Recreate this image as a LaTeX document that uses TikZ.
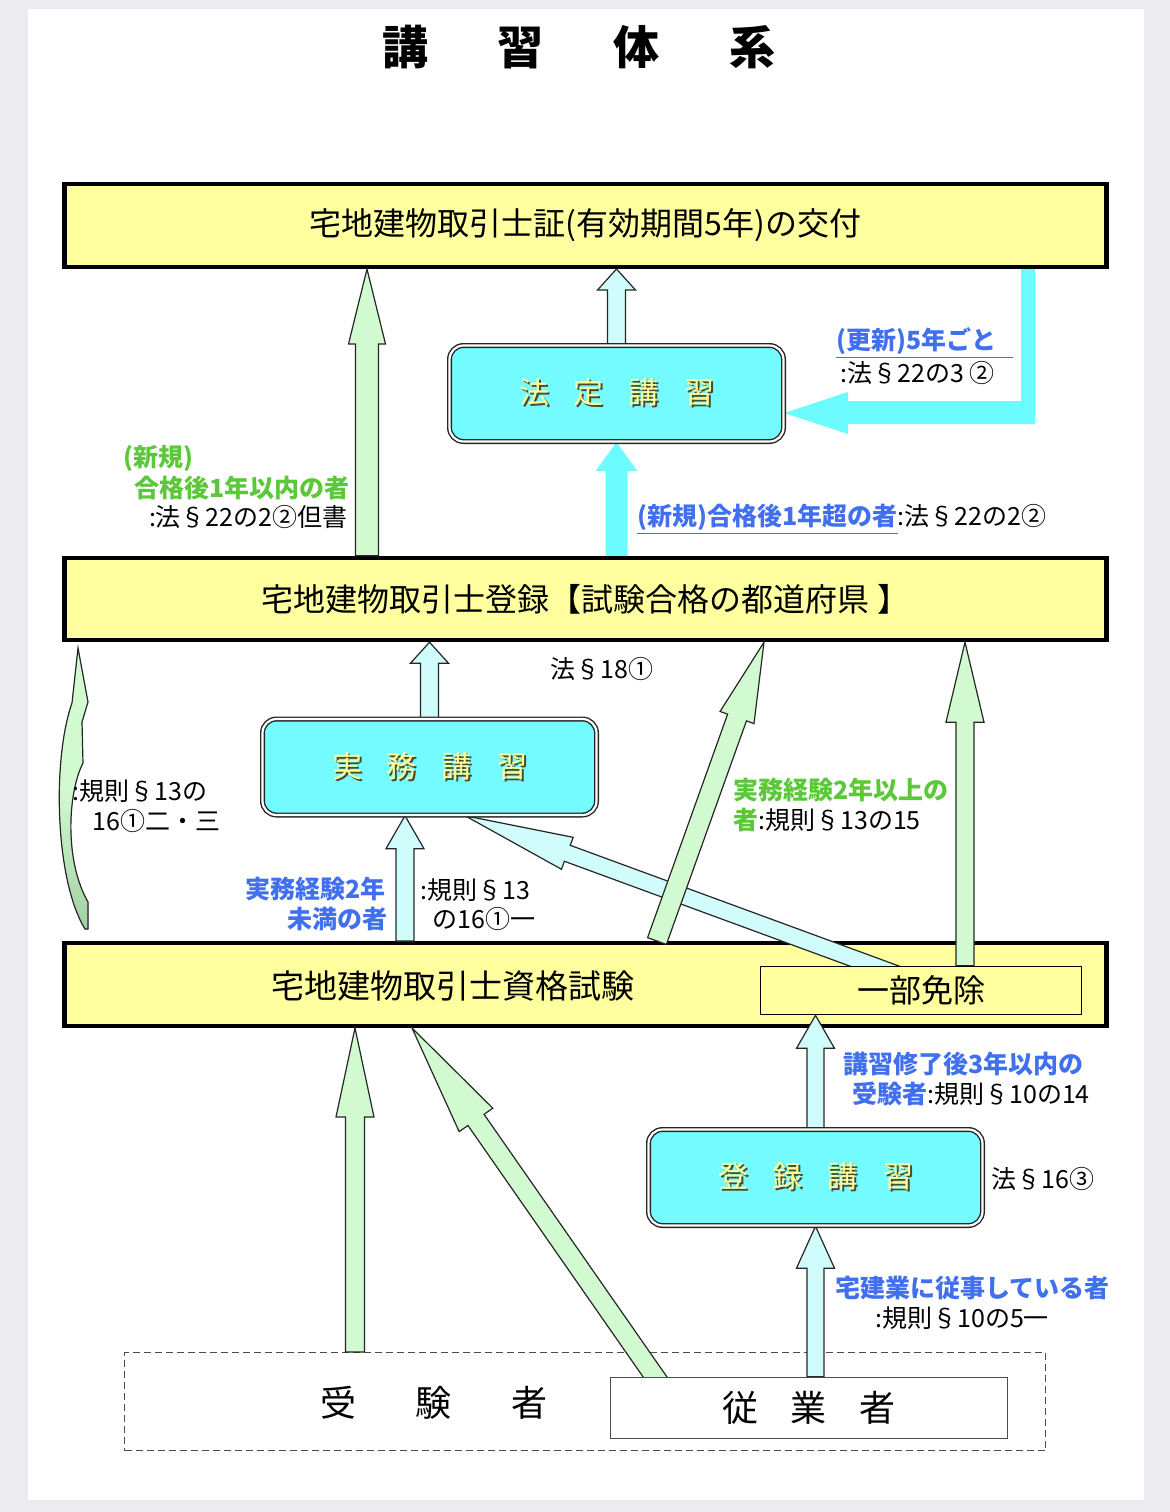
\documentclass[tikz,border=0pt]{standalone}
\usepackage{fontspec}
\setmainfont{Noto Sans CJK JP}
\usetikzlibrary{calc}
\definecolor{bgc}{HTML}{ECECF0}
\definecolor{boxyellow}{HTML}{FFFF9F}
\definecolor{boxcyan}{HTML}{74FBFF}
\definecolor{acyan}{HTML}{6CFCFF}
\definecolor{lcyan}{HTML}{D0FCFC}
\definecolor{lgreen}{HTML}{D2FAD0}
\definecolor{dgreen}{HTML}{A2D0A2}
\definecolor{blueT}{HTML}{4070EE}
\definecolor{greenT}{HTML}{5BC83A}
\definecolor{ktext}{HTML}{FFFF99}
\definecolor{kshadow}{HTML}{4A4A30}
\newcommand\shtxt[1]{\rlap{\kern1pt\raisebox{-1pt}{\textcolor{kshadow}{#1}}}\textcolor{ktext}{#1}}
\newcommand\barrow[6]{%
  \coordinate (bah) at ($(#3)!#6!(#2)$);
  \filldraw[#1] ($(#2)!#4!90:(#3)$) -- ($(bah)!#4!90:(#3)$) -- ($(bah)!#5!90:(#3)$) -- (#3) -- ($(bah)!#5!-90:(#3)$) -- ($(bah)!#4!-90:(#3)$) -- ($(#2)!#4!-90:(#3)$) -- cycle;}
\pgfdeclarelayer{front}
\pgfsetlayers{main,front}
\begin{document}
\begin{tikzpicture}[x=0.5pt,y=-0.5pt,
  ybox/.style={draw=black, line width=2.2pt, fill=boxyellow, minimum width=521pt, minimum height=41.3pt, inner sep=0pt, font=\fontsize{16pt}{18pt}\selectfont},
  cbox/.style={draw=black!85, line width=0.7pt, double=white, double distance=1.1pt, rounded corners=7pt, fill=boxcyan, minimum width=167pt, minimum height=48pt, inner sep=0pt, font=\fontsize{15pt}{17pt}\selectfont},
  lbl/.style={inner sep=0pt, font=\fontsize{12.5pt}{14pt}\selectfont},
  lcyanA/.style={fill=lcyan, draw=black!85, line width=0.6pt},
  greenA/.style={fill=lgreen, draw=black!85, line width=0.6pt},
  cyanA/.style={fill=acyan, draw=none},
]
\useasboundingbox (0,0) rectangle (1170,1512);
\fill[bgc] (0,0) rectangle (1170,1512);
\fill[white, draw=black!8] (27,8) rectangle (1144,1500);

% title
\node[inner sep=0pt, font=\fontsize{23pt}{25pt}\selectfont\bfseries] (title) at (579,47) {講\hspace{35pt}習\hspace{35pt}体\hspace{35pt}系};

% big boxes
\node[ybox] (card) at (585.5,225.5) {宅地建物取引士証(有効期間5年)の交付};
\node[ybox, minimum height=41pt] (reg) at (585.5,599) {宅地建物取引士登録【試験合格の都道府県 】};
\node[ybox] (exam) at (585.5,984.5) {};
\node[inner sep=0pt, font=\fontsize{16.5pt}{18pt}\selectfont] (examtxt) at (453,986) {宅地建物取引士資格試験};
\node[draw=black!70, dash pattern=on 3.5pt off 2pt, line width=0.6pt, minimum width=460.5pt, minimum height=49pt, inner sep=0pt] (juken) at (585,1401.5) {};
\node[inner sep=0pt, font=\fontsize{18pt}{20pt}\selectfont] (jukentxt) at (434,1403) {受\hspace{30pt}験\hspace{30pt}者};

\begin{pgfonlayer}{front}
\node[cbox] (hotei) at (616.5,393.5) {\shtxt{法\hspace{12.5pt}定\hspace{12.5pt}講\hspace{12.5pt}習}};
\node[cbox] (jitsumu) at (429.5,767) {\shtxt{実\hspace{12.5pt}務\hspace{12.5pt}講\hspace{12.5pt}習}};
\node[cbox] (toroku) at (815.5,1177.5) {\shtxt{登\hspace{12.5pt}録\hspace{12.5pt}講\hspace{12.5pt}習}};
\node[draw=black, line width=0.8pt, fill=boxyellow, minimum width=160.5pt, minimum height=24pt, inner sep=0pt, font=\fontsize{16pt}{18pt}\selectfont] (menjo) at (921,990.5) {一部免除};
\node[draw=black!70, line width=0.7pt, fill=white, minimum width=198.5pt, minimum height=30.5pt, inner sep=0pt, font=\fontsize{18pt}{20pt}\selectfont] (jugyo) at (809,1408) {従\hspace{16.5pt}業\hspace{16.5pt}者};
\end{pgfonlayer}

% arrow end points
\coordinate (a1s) at (hotei.north);
\coordinate (a1e) at (card.south -| hotei.north);
\coordinate (a2s) at (reg.north -| hotei.south);
\coordinate (a2e) at (hotei.south);
\coordinate (gx1) at (367,0);
\coordinate (a3s) at (reg.north -| gx1);
\coordinate (a3e) at (card.south -| gx1);
\coordinate (a4s) at (jitsumu.north);
\coordinate (a4e) at (reg.south -| jitsumu.north);
\coordinate (ex1) at (405,0);
\coordinate (a5s) at (exam.north -| ex1);
\coordinate (a5e) at (jitsumu.south -| ex1);
\coordinate (dx1) at (917,0);
\coordinate (dx2) at (465,0);
\coordinate (a6s) at ($(menjo.north -| dx1)+(0,16)$);
\coordinate (a6e) at (jitsumu.south -| dx2);
\coordinate (gx2) at (657,0);
\coordinate (gx3) at (764,0);
\coordinate (a7s) at (exam.north -| gx2);
\coordinate (a7e) at (reg.south -| gx3);
\coordinate (gx4) at (965,0);
\coordinate (a8s) at (menjo.north -| gx4);
\coordinate (a8e) at (reg.south -| gx4);
\coordinate (a9s) at (toroku.north);
\coordinate (a9e) at (menjo.south -| toroku.north);
\coordinate (a10s) at (jugyo.north -| toroku.south);
\coordinate (a10e) at (toroku.south);
\coordinate (gx5) at (355,0);
\coordinate (a11s) at (juken.north -| gx5);
\coordinate (a11e) at (exam.south -| gx5);
\coordinate (gx6) at (664,0);
\coordinate (gx7) at (412,0);
\coordinate (a12s) at ($(jugyo.north -| gx6)+(0,13)$);
\coordinate (a12e) at (exam.south -| gx7);

% block arrows
\barrow{lcyanA}{a1s}{a1e}{4.5pt}{9.5pt}{10.5pt}
\barrow{cyanA}{a2s}{a2e}{5.5pt}{10.5pt}{14.5pt}
\barrow{greenA}{a3s}{a3e}{5.75pt}{9.25pt}{37.5pt}
\barrow{lcyanA}{a4s}{a4e}{4.5pt}{9.5pt}{10.5pt}
\barrow{lcyanA}{a5s}{a5e}{4.5pt}{9.5pt}{16.5pt}
\barrow{lcyanA}{a6s}{a6e}{4.25pt}{8.5pt}{54.5pt}
\barrow{greenA}{a7s}{a7e}{5pt}{9pt}{40pt}
\barrow{greenA}{a8s}{a8e}{4.5pt}{9.5pt}{40pt}
\barrow{lcyanA}{a9s}{a9e}{4.25pt}{9.5pt}{16.5pt}
\barrow{lcyanA}{a10s}{a10e}{4.25pt}{9.5pt}{21pt}
\barrow{greenA}{a11s}{a11e}{4.75pt}{9.5pt}{44.5pt}
\barrow{greenA}{a12s}{a12e}{4.9pt}{10.25pt}{56pt}

% renewal arrow
\coordinate (rv1) at (1021,0);
\coordinate (rv2) at (1035,0);
\coordinate (ry) at (0,413);
\coordinate (rtip) at (hotei.east |- ry);
\fill[cyanA] (card.south -| rv1) -- (card.south -| rv2) -- (1035,424) -- (848,424) -- (848,434) -- (rtip) -- (848,392) -- (848,401) -- (1021,401) -- cycle;

% curved arrow on the left
\filldraw[draw=black!85, line width=0.6pt, top color=lgreen, bottom color=dgreen, middle color=lgreen] (78,648) -- (88,702) -- (82,722) -- (83,763) .. controls (68,792) and (64,860) .. (88,902) -- (88,929) -- (85,929) .. controls (55,880) and (52,760) .. (72,703) -- cycle;

% labels
\node[lbl, anchor=west, text=blueT] (l1) at (836,343) {\bfseries\underline{(更新)5年ごと\hspace{8pt}}};
\node[lbl, anchor=west] (l2) at (840,373) {:法§22の3 ②};
\node[lbl, anchor=west, text=greenT] (l3) at (123,458) {\bfseries (新規)};
\node[lbl, anchor=east, text=greenT] (l4) at (350,488) {\bfseries 合格後1年以内の者};
\node[lbl, anchor=east] (l5) at (348,517) {:法§22の2②但書};
\node[lbl, anchor=west] (l6) at (637,519) {\textcolor{blueT}{\bfseries\underline{(新規)合格後1年超の者}}:法§22の2②};
\node[lbl, anchor=west] (l7) at (550,669) {法§18①};
\node[lbl, anchor=west] (l8) at (72,791) {:規則§13の};
\node[lbl, anchor=west] (l9) at (92,821) {16①二・三};
\node[lbl, anchor=east, text=blueT] (l10) at (386,889) {\bfseries 実務経験2年};
\node[lbl, anchor=east, text=blueT] (l11) at (388,919) {\bfseries 未満の者};
\node[lbl, anchor=west] (l12) at (420,890) {:規則§13};
\node[lbl, anchor=west] (l13) at (432,919) {の16①一};
\node[lbl, anchor=west, text=greenT] (l14) at (733,790) {\bfseries 実務経験2年以上の};
\node[lbl, anchor=west] (l15) at (733,820) {\textcolor{greenT}{\bfseries 者}:規則§13の15};
\node[lbl, anchor=west, text=blueT] (l16) at (843,1064) {\bfseries 講習修了後3年以内の};
\node[lbl, anchor=west] (l17) at (852,1094) {\textcolor{blueT}{\bfseries 受験者}:規則§10の14};
\node[lbl, anchor=west] (l18) at (991,1179) {法§16③};
\node[lbl, anchor=west, text=blueT] (l19) at (835,1288) {\bfseries 宅建業に従事している者};
\node[lbl, anchor=west] (l20) at (875,1318) {:規則§10の5一};
\end{tikzpicture}
\end{document}
